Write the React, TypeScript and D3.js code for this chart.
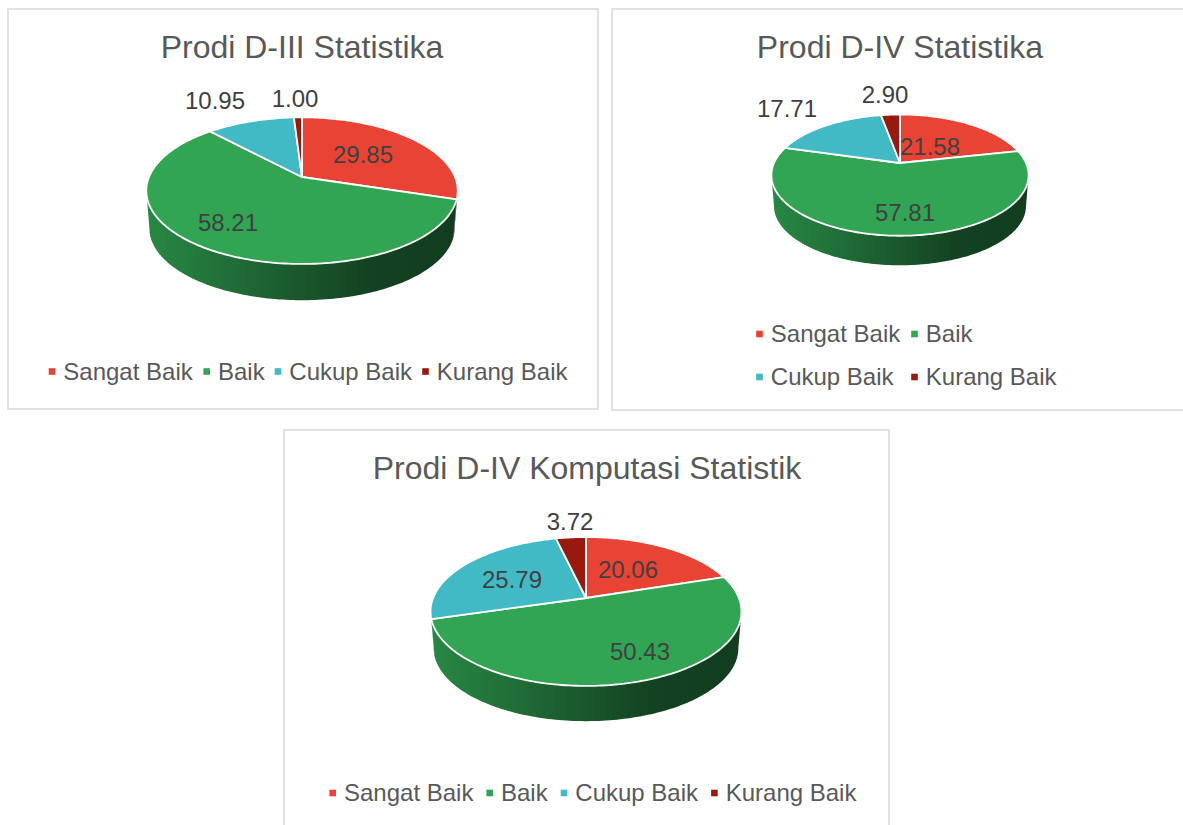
import React from 'react';
import * as d3 from 'd3';

const categories = ['Sangat Baik', 'Baik', 'Cukup Baik', 'Kurang Baik'];
const colors = ['#E94335', '#31A553', '#42BAC5', '#981A0E'];

const titles = ['Prodi D-III Statistika', 'Prodi D-IV Statistika', 'Prodi D-IV Komputasi Statistik'];
const valuesD3 = [29.85, 58.21, 10.95, 1.0];
const valuesD4 = [21.58, 57.81, 17.71, 2.9];
const valuesKomputasi = [20.06, 50.43, 25.79, 3.72];
const seriesValues = [valuesD3, valuesD4, valuesKomputasi];

const FONT = '"Liberation Sans", Arial, sans-serif';

// box = panel frame, cx/cy = pie apex, k = perspective, b = vertical radius, d = thickness
const layouts = [
	{
		box: [8, 9, 590, 400], titleX: 302, titleY: 47,
		cx: 302, cy: 177, R: 153, b: 70.8, k: 0.186, d: 38,
		labels: [[61, -22], [-74, 46], [-87, -76], [-7, -78]],
		legend: [[52, 371.5], [206.7, 371.5], [278, 371.5], [425.5, 371.5]],
	},
	{
		box: [612, 9, 580, 401], titleX: 900, titleY: 47,
		cx: 900, cy: 163, R: 126, b: 58.2, k: 0.2, d: 31,
		labels: [[30, -16], [5, 50], [-113, -54], [-15, -68]],
		legend: [[759.5, 334], [914.5, 334], [759.5, 377], [914.5, 377]],
	},
	{
		box: [284, 430, 605, 410], titleX: 587, titleY: 468,
		cx: 586, cy: 598, R: 152.9, b: 72, k: 0.181, d: 37,
		labels: [[42, -28], [54, 54], [-74, -18], [-16, -76]],
		legend: [[332.7, 793], [489.7, 793], [564, 793], [714.4, 793]],
	},
];

const pie = d3.pie<number>().sort(null).value((v) => v);
const line = d3.line<[number, number]>();

function angleSteps(a0: number, a1: number): number[] {
	const n = Math.max(2, Math.ceil((a1 - a0) / 0.02));
	return d3.range(n + 1).map((i) => a0 + ((a1 - a0) * i) / n);
}

function Pie3D({ values, layout, index }: { values: number[]; layout: (typeof layouts)[number]; index: number }) {
	const { cx, cy, R, b, k, d } = layout;
	// circle seen in perspective, so the apex sits above the middle of the ellipse
	const rim = (t: number): [number, number] => {
		const s = 1 + k * Math.cos(t);
		return [cx + (R * Math.sin(t)) / s, cy - (b * Math.cos(t)) / s];
	};
	const lower = (t: number): [number, number] => {
		const [x, y] = rim(t);
		return [cx + (x - cx) * 0.98, cy + (y - cy) * 0.98 + d];
	};
	const frontStart = Math.acos(-k);
	const frontEnd = 2 * Math.PI - frontStart;
	const arcs = pie(values);
	const left = cx - R * 1.02;
	const right = cx + R * 1.02;

	return (
		<g>
			<defs>
				{colors.map((c, i) => (
					<linearGradient key={c} id={`side-${index}-${i}`} gradientUnits="userSpaceOnUse" x1={left} x2={right} y1={0} y2={0}>
						<stop offset="0" stopColor={d3.rgb(c).darker(0.55).formatHex()} />
						<stop offset="0.72" stopColor={d3.rgb(c).darker(2.6).formatHex()} />
						<stop offset="1" stopColor={d3.rgb(c).darker(2.8).formatHex()} />
					</linearGradient>
				))}
			</defs>
			{arcs.map((a, i) => {
				const a0 = Math.max(a.startAngle, frontStart);
				const a1 = Math.min(a.endAngle, frontEnd);
				if (a1 <= a0) return null;
				const steps = angleSteps(a0, a1);
				const pts = [...steps.map(rim), ...steps.slice().reverse().map(lower)];
				return <path key={i} d={`${line(pts)}Z`} fill={`url(#side-${index}-${i})`} />;
			})}
			{arcs.map((a, i) => {
				const pts: [number, number][] = [[cx, cy], ...angleSteps(a.startAngle, a.endAngle).map(rim)];
				return <path key={i} d={`${line(pts)}Z`} fill={colors[i]} stroke="#fff" strokeWidth={1.8} strokeLinejoin="round" />;
			})}
			{values.map((v, i) => (
				<text key={i} x={cx + layout.labels[i][0]} y={cy + layout.labels[i][1]} dy="0.35em" textAnchor="middle" fontFamily={FONT} fontSize={24} fill="#404040">
					{v.toFixed(2)}
				</text>
			))}
		</g>
	);
}

export default function App() {
	return (
		<svg width={1183} height={825} viewBox="0 0 1183 825" style={{ position: 'absolute', left: 0, top: 0, display: 'block', background: '#fff' }}>
			{layouts.map((l, i) => (
				<g key={titles[i]}>
					<rect x={l.box[0]} y={l.box[1]} width={l.box[2]} height={l.box[3]} fill="#fff" stroke="#d9d9d9" strokeWidth={1.5} />
					<text x={l.titleX} y={l.titleY} dy="0.35em" textAnchor="middle" fontFamily={FONT} fontSize={32} fill="#595959">
						{titles[i]}
					</text>
					<Pie3D values={seriesValues[i]} layout={l} index={i} />
					{categories.map((c, j) => (
						<g key={c}>
							<rect x={l.legend[j][0] - 3.3} y={l.legend[j][1] - 3.3} width={6.6} height={6.6} fill={colors[j]} />
							<text x={l.legend[j][0] + 11.3} y={l.legend[j][1]} dy="0.35em" fontFamily={FONT} fontSize={24} fill="#595959">
								{c}
							</text>
						</g>
					))}
				</g>
			))}
		</svg>
	);
}
